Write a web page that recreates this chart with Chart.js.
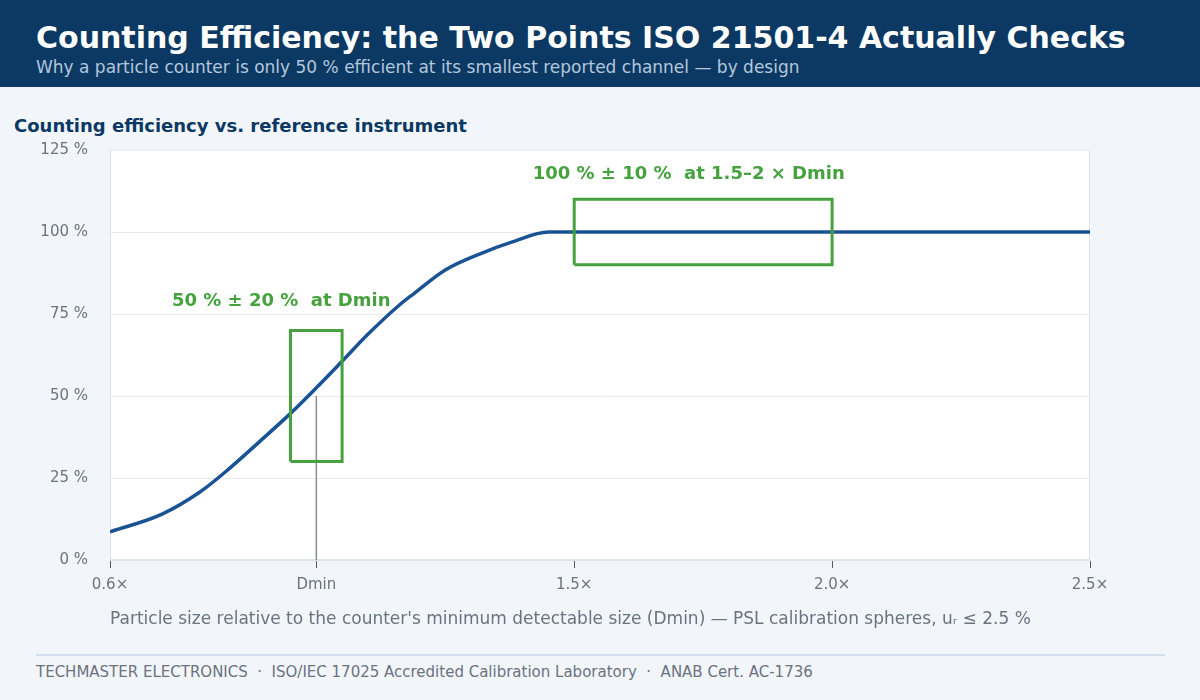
<!DOCTYPE html>
<html>
<head>
<meta charset="utf-8">
<script src="https://cdn.jsdelivr.net/npm/chart.js@4.4.1/dist/chart.umd.min.js"></script>
<style>
  html, body { margin: 0; padding: 0; }
  body {
    width: 1200px; height: 700px; position: relative; overflow: hidden;
    background: #f2f6fa;
    font-family: "DejaVu Sans", sans-serif;
  }
  .hdr {
    position: absolute; left: 0; top: 0; width: 1200px; height: 87px;
    background: #0b3964;
  }
  .hdr h1 {
    position: absolute; left: 36px; top: 20px; margin: 0;
    font-size: 30px; font-weight: bold; color: #fff; white-space: nowrap;
  }
  .hdr p {
    position: absolute; left: 36px; top: 57px; margin: 0;
    font-size: 17px; color: #b5c7dc; white-space: nowrap;
  }
  .sub {
    position: absolute; left: 14px; top: 115px; margin: 0;
    font-size: 18px; font-weight: bold; color: #0b3964; white-space: nowrap;
  }
  #wrap { position: absolute; left: 0; top: 87px; width: 1200px; height: 568px; }
  .rule {
    position: absolute; left: 36px; top: 654px; width: 1129px; height: 0;
    border-top: 2px solid #d3deec;
  }
  .foot {
    position: absolute; left: 36px; top: 663px; margin: 0;
    font-size: 15px; color: #6b7280; white-space: nowrap;
  }
</style>
</head>
<body>
<div class="hdr">
  <h1>Counting Efficiency: the Two Points ISO 21501-4 Actually Checks</h1>
  <p>Why a particle counter is only 50 % efficient at its smallest reported channel — by design</p>
</div>
<div class="sub">Counting efficiency vs. reference instrument</div>
<div id="wrap"><canvas id="c"></canvas></div>
<div class="rule"></div>
<div class="foot">TECHMASTER ELECTRONICS &nbsp;·&nbsp; ISO/IEC 17025 Accredited Calibration Laboratory &nbsp;·&nbsp; ANAB Cert. AC-1736</div>

<script>
/* ---------------------------------------------------------------- *
 * Data
 * ---------------------------------------------------------------- */
// particle size as multiple of Dmin
const SIZES = [0.60, 0.70, 0.775, 0.83, 0.89, 0.95, 1.00, 1.05, 1.10, 1.16,
               1.19, 1.25, 1.32, 1.38, 1.45, 2.50];
// counting efficiency, %
const EFFICIENCY = [8.6, 13.9, 20.8, 27.7, 36.1, 44.7, 52.5, 60.6, 68.8, 77.6,
                    81.3, 88.4, 93.5, 97.0, 100, 100];

const X_TICKS = [0.6, 1.0, 1.5, 2.0, 2.5];
const X_TICK_LABELS = ["0.6×", "Dmin", "1.5×", "2.0×", "2.5×"];
const Y_TICKS = [0, 25, 50, 75, 100, 125];

// ISO 21501-4 check windows: [xMin, xMax, yMin, yMax]
const CHECK_DMIN = [0.95, 1.05, 30, 70];
const CHECK_PLATEAU = [1.5, 2.0, 90, 110];
// Dmin marker: x, top of line (%)
const DMIN_MARK = [1.0, 50];

// label text + anchor in data coords
const NOTE_TEXT = ["50 % ± 20 %  at Dmin", "100 % ± 10 %  at 1.5–2 × Dmin"];
const NOTE_X = [0.932, 1.722];
const NOTE_Y = [79, 117.5];

/* ---------------------------------------------------------------- */
const BLUE = "#1a5394";
const GREEN = "#46a23e";
const TICK_GRAY = "#6b7280";

function boxPoints(b) {
  const [x0, x1, y0, y1] = b;
  return [
    { x: x0, y: y0 }, { x: x0, y: y1 }, { x: x1, y: y1 },
    { x: x1, y: y0 }, { x: x0, y: y0 },
  ];
}

// white plot background + thin frame, drawn under the datasets
const plotFrame = {
  id: "plotFrame",
  beforeDraw(chart) {
    const { ctx, chartArea: a } = chart;
    ctx.save();
    ctx.fillStyle = "#fff";
    ctx.fillRect(a.left, a.top, a.right - a.left, a.bottom - a.top);
    ctx.strokeStyle = "#dde3ea";
    ctx.lineWidth = 1;
    ctx.strokeRect(a.left + 0.5, a.top + 0.5, a.right - a.left - 1, a.bottom - a.top - 1);
    ctx.restore();
  },
};

// green captions for the two check windows
const notes = {
  id: "notes",
  afterDatasetsDraw(chart) {
    const { ctx, scales: { x, y } } = chart;
    ctx.save();
    ctx.font = 'bold 18px "DejaVu Sans", sans-serif';
    ctx.fillStyle = GREEN;
    ctx.textAlign = "center";
    ctx.textBaseline = "middle";
    NOTE_TEXT.forEach((t, i) => {
      ctx.fillText(t, x.getPixelForValue(NOTE_X[i]), y.getPixelForValue(NOTE_Y[i]));
    });
    ctx.restore();
  },
};

Chart.defaults.font.family = '"DejaVu Sans", sans-serif';
Chart.defaults.color = TICK_GRAY;

const effData = SIZES.map((s, i) => ({ x: s, y: EFFICIENCY[i] }));

new Chart(document.getElementById("c"), {
  type: "line",
  data: {
    datasets: [
      {
        label: "Dmin",
        data: [{ x: DMIN_MARK[0], y: 0 }, { x: DMIN_MARK[0], y: DMIN_MARK[1] }],
        borderColor: "#8a8f96",
        borderWidth: 1.5,
        pointRadius: 0,
        order: 3,
      },
      {
        label: "Efficiency",
        data: effData,
        borderColor: BLUE,
        borderWidth: 3.5,
        pointRadius: 0,
        cubicInterpolationMode: "monotone",
        order: 2,
      },
      {
        label: "Check at Dmin",
        data: boxPoints(CHECK_DMIN),
        borderColor: GREEN,
        borderWidth: 3,
        pointRadius: 0,
        tension: 0,
        order: 1,
      },
      {
        label: "Check at plateau",
        data: boxPoints(CHECK_PLATEAU),
        borderColor: GREEN,
        borderWidth: 3,
        pointRadius: 0,
        tension: 0,
        order: 1,
      },
    ],
  },
  options: {
    responsive: true,
    maintainAspectRatio: false,
    animation: false,
    layout: { padding: { top: 63, right: 110, bottom: 0, left: 0 } },
    plugins: {
      legend: { display: false },
      tooltip: { enabled: false },
    },
    scales: {
      x: {
        type: "linear",
        min: 0.6, max: 2.5,
        afterBuildTicks(scale) { scale.ticks = X_TICKS.map((v) => ({ value: v })); },
        afterFit(scale) { scale.height = 95; },
        border: { color: "#dde3ea" },
        grid: { drawOnChartArea: false, tickLength: 8, color: "#555b63", lineWidth: 1 },
        ticks: {
          padding: 8,
          font: { size: 15 },
          color: TICK_GRAY,
          autoSkip: false,
          maxRotation: 0,
          callback: (v) => X_TICK_LABELS[X_TICKS.indexOf(v)] ?? "",
        },
        title: {
          display: true,
          align: "start",
          text: "Particle size relative to the counter's minimum detectable size (Dmin) — PSL calibration spheres, uᵣ ≤ 2.5 %",
          font: { size: 17 },
          color: TICK_GRAY,
          padding: { top: 0, bottom: 25 },
        },
      },
      y: {
        min: 0, max: 125,
        afterBuildTicks(scale) { scale.ticks = Y_TICKS.map((v) => ({ value: v })); },
        afterFit(scale) { scale.width = 110; },
        border: { color: "#dde3ea" },
        grid: { color: "#e6eaef", drawTicks: false },
        ticks: {
          padding: 22,
          font: { size: 15 },
          color: TICK_GRAY,
          callback: (v) => `${v} %`,
        },
      },
    },
  },
  plugins: [plotFrame, notes],
});
</script>
</body>
</html>
